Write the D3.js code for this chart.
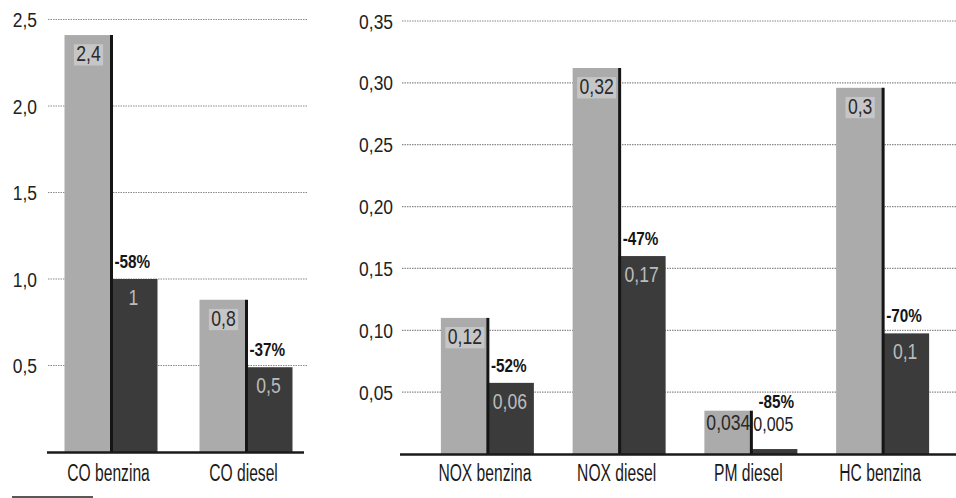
<!DOCTYPE html>
<html><head><meta charset="utf-8">
<script src="https://cdn.jsdelivr.net/npm/d3@7/dist/d3.min.js"></script>
<style>body{margin:0;background:#fff}svg{display:block}</style></head>
<body>
<svg id="c" width="956" height="498"></svg>
<script>
// ---- data ----
const leftCategories = ["CO benzina", "CO diesel"];
const leftBefore = [2.41, 0.88];
const leftAfter = [1.0, 0.49];
const leftBeforeLabels = ["2,4", "0,8"];
const leftAfterLabels = ["1", "0,5"];
const leftChange = ["-58%", "-37%"];
const leftTicks = [0.5, 1.0, 1.5, 2.0, 2.5];
const leftTickLabels = ["0,5", "1,0", "1,5", "2,0", "2,5"];

const rightCategories = ["NOX benzina", "NOX diesel", "PM diesel", "HC benzina"];
const rightBefore = [0.11, 0.312, 0.035, 0.296];
const rightAfter = [0.0575, 0.16, 0.004, 0.0975];
const rightBeforeLabels = ["0,12", "0,32", "0,034", "0,3"];
const rightAfterLabels = ["0,06", "0,17", "0,005", "0,1"];
const rightChange = ["-52%", "-47%", "-85%", "-70%"];
const rightTicks = [0.05, 0.10, 0.15, 0.20, 0.25, 0.30, 0.35];
const rightTickLabels = ["0,05", "0,10", "0,15", "0,20", "0,25", "0,30", "0,35"];

// ---- style ----
const FONT = "'Liberation Sans Narrow','Liberation Sans',Arial,sans-serif";
const LIGHT = "#ababab", DARK = "#3b3b3b";
const svg = d3.select("#c");

function txt(parent, x, y, str, o) {
  const grp = parent.append("g").attr("transform", `translate(${x},${y}) scale(${o.sx || 1},1)`);
  const t = grp.append("text").attr("x", 0).attr("y", 0)
    .attr("text-anchor", o.anchor || "start")
    .attr("font-family", FONT).attr("font-size", o.size)
    .attr("font-weight", o.weight || "normal")
    .attr("fill", o.fill || "#1e1e1e");
  if (o.dy) t.attr("dy", o.dy);
  t.text(str);
  return { grp, t };
}

function panel(o) {
  const g = svg.append("g");
  const x = d3.scaleBand().domain(o.cats).range(o.xRange).padding(0);
  const y = d3.scaleLinear().domain(o.domain).range(o.yRange);
  const bw = 46;
  const cx = c => x(c) + x.bandwidth() / 2;
  const y0 = y(0);

  g.selectAll(".grid").data(o.ticks).join("line")
    .attr("x1", o.gridX[0]).attr("x2", o.gridX[1])
    .attr("y1", d => y(d)).attr("y2", d => y(d))
    .attr("stroke", "#8a8a8a").attr("stroke-width", 1.2).attr("stroke-dasharray", "1.5,1");
  o.ticks.forEach((d, i) => {
    txt(g, o.tickX, y(d), o.tickLabels[i], { size: 21, sx: 0.83, anchor: "end", dy: "0.36em", fill: "#222" });
  });

  o.cats.forEach((c, i) => {
    const xc = cx(c);
    const tb = y(o.before[i]), ta = y(o.after[i]);
    g.append("rect").attr("x", xc - bw).attr("y", tb).attr("width", bw).attr("height", y0 - tb).attr("fill", LIGHT);
    g.append("rect").attr("x", xc).attr("y", ta).attr("width", bw + 1).attr("height", y0 - ta).attr("fill", DARK);
    g.append("line").attr("x1", xc + 1).attr("x2", xc + 1).attr("y1", tb).attr("y2", y0)
      .attr("stroke", "#151515").attr("stroke-width", 3);

    const hb = y0 - tb;
    const lb = tb + Math.min(26, hb * 0.45);
    const L = txt(g, xc - bw / 2 + 1, lb, o.beforeLabels[i], { size: 22, sx: 0.8, anchor: "middle", fill: "#2a2a2a" });
    if (hb > 60) {
      const bb = L.t.node().getBBox();
      L.grp.insert("rect", "text").attr("x", bb.x - 3).attr("y", bb.y + 3).attr("width", bb.width + 6)
        .attr("height", bb.height - 3).attr("fill", "#c6c6c6");
    }

    const ha = y0 - ta;
    if (ha > 30) {
      txt(g, xc + bw / 2, ta + 26, o.afterLabels[i], { size: 22, sx: 0.8, anchor: "middle", fill: "#bcbcbc" });
      txt(g, xc + 4, ta - 11, o.change[i], { size: 18, sx: 0.85, weight: "bold", fill: "#151515" });
    } else {
      const ly = ta - 18;
      txt(g, xc + bw / 2, ly, o.afterLabels[i], { size: 20, sx: 0.8, anchor: "middle", fill: "#222" });
      txt(g, xc + bw / 2 + 3, ly - 23, o.change[i], { size: 18, sx: 0.85, anchor: "middle", weight: "bold", fill: "#151515" });
    }

    txt(g, xc - 2, o.catY, c, { size: 23, sx: 0.68, anchor: "middle", fill: "#1a1a1a" });
  });

  g.append("line").attr("x1", o.baseX[0]).attr("x2", o.baseX[1]).attr("y1", y0 + 0.5).attr("y2", y0 + 0.5)
    .attr("stroke", "#1a1a1a").attr("stroke-width", 2.5);
}

panel({
  cats: leftCategories, before: leftBefore, after: leftAfter,
  beforeLabels: leftBeforeLabels, afterLabels: leftAfterLabels, change: leftChange,
  ticks: leftTicks, tickLabels: leftTickLabels,
  domain: [0, 2.5], yRange: [452, 19.5], xRange: [43, 313],
  gridX: [48, 308], baseX: [47, 304], tickX: 37, catY: 481
});
panel({
  cats: rightCategories, before: rightBefore, after: rightAfter,
  beforeLabels: rightBeforeLabels, afterLabels: rightAfterLabels, change: rightChange,
  ticks: rightTicks, tickLabels: rightTickLabels,
  domain: [0, 0.35], yRange: [454, 21], xRange: [421, 948],
  gridX: [402, 956], baseX: [400, 956], tickX: 393, catY: 481
});

svg.append("line").attr("x1", 12).attr("x2", 93).attr("y1", 497).attr("y2", 497)
  .attr("stroke", "#222").attr("stroke-width", 1.5);
</script>
</body></html>
